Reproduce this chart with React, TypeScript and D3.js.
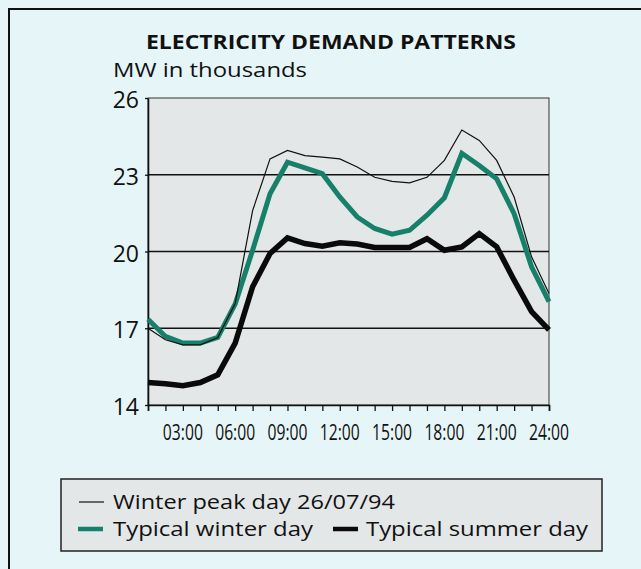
import React, { useEffect, useRef } from "react";
import * as d3 from "d3";

// hourly readings, 01:00 .. 24:00
const hours = [1, 2, 3, 4, 5, 6, 7, 8, 9, 10, 11, 12, 13, 14, 15, 16, 17, 18, 19, 20, 21, 22, 23, 24];

const winterPeak = [17.0, 16.55, 16.35, 16.35, 16.64, 17.97, 21.6, 23.62, 23.95, 23.75, 23.69, 23.62, 23.3, 22.9, 22.74, 22.68, 22.9, 23.56, 24.75, 24.34, 23.56, 22.13, 19.79, 18.36];
const typicalWinter = [17.35, 16.68, 16.42, 16.42, 16.64, 17.95, 20.05, 22.26, 23.49, 23.27, 23.04, 22.13, 21.35, 20.9, 20.68, 20.83, 21.42, 22.1, 23.84, 23.36, 22.84, 21.48, 19.4, 18.04];
const typicalSummer = [14.88, 14.83, 14.75, 14.88, 15.18, 16.42, 18.62, 19.92, 20.53, 20.31, 20.21, 20.34, 20.29, 20.16, 20.16, 20.16, 20.5, 20.05, 20.18, 20.7, 20.18, 18.88, 17.65, 16.94];

const yTicks = [14, 17, 20, 23, 26];
const gridValues = [17, 20, 23];
const xLabelHours = [3, 6, 9, 12, 15, 18, 21, 24];
const xLabels = ["03:00", "06:00", "09:00", "12:00", "15:00", "18:00", "21:00", "24:00"];

const W = 641;
const H = 569;
const FONT = "'Open Sans', 'Noto Sans', sans-serif";

const BG = "#e6f6f8";
const PLOT_FILL = "#e4e7e8";
const GREEN = "#17806a";

export default function App() {
  const svgRef = useRef<SVGSVGElement>(null);

  useEffect(() => {
    if (!svgRef.current) return;
    const svg = d3.select(svgRef.current);
    svg.selectAll("*").remove();

    const plot = { left: 148, right: 549, top: 98, bottom: 405 };
    const x = d3.scaleLinear().domain([1, 24]).range([plot.left, plot.right]);
    const y = d3.scaleLinear().domain([14, 26]).range([plot.bottom, plot.top]);

    // page background + frame
    svg.append("rect").attr("width", W).attr("height", H).attr("fill", BG);
    svg.append("line").attr("x1", 8).attr("x2", W).attr("y1", 9).attr("y2", 9)
      .attr("stroke", "#111").attr("stroke-width", 2);
    svg.append("line").attr("x1", 9).attr("x2", 9).attr("y1", 8).attr("y2", H)
      .attr("stroke", "#111").attr("stroke-width", 2);

    // titles
    svg.append("text")
      .attr("x", 331).attr("y", 49)
      .attr("text-anchor", "middle")
      .attr("font-family", FONT).attr("font-weight", 700).attr("font-size", 20)
      .attr("textLength", 370).attr("lengthAdjust", "spacingAndGlyphs")
      .attr("fill", "#111")
      .text("ELECTRICITY DEMAND PATTERNS");
    svg.append("text")
      .attr("x", 113).attr("y", 76.5)
      .attr("font-family", FONT).attr("font-size", 20)
      .attr("textLength", 194).attr("lengthAdjust", "spacingAndGlyphs")
      .attr("fill", "#111")
      .text("MW in thousands");

    // plot box
    svg.append("rect")
      .attr("x", plot.left).attr("y", plot.top)
      .attr("width", plot.right - plot.left).attr("height", plot.bottom - plot.top)
      .attr("fill", PLOT_FILL).attr("stroke", "#333").attr("stroke-width", 1);

    svg.append("g").selectAll("line").data(gridValues).join("line")
      .attr("x1", plot.left).attr("x2", plot.right)
      .attr("y1", (d) => y(d)).attr("y2", (d) => y(d))
      .attr("stroke", "#111").attr("stroke-width", 1.6);

    // axes
    const xAxis = svg.append("g").attr("transform", `translate(0,${plot.bottom})`)
      .call(d3.axisBottom(x).tickValues(hours).tickSize(6).tickFormat(() => ""));
    xAxis.select(".domain").attr("stroke", "#111").attr("stroke-width", 1.6);
    xAxis.selectAll(".tick line").attr("stroke", "#111").attr("stroke-width", 1.3);

    const yAxis = svg.append("g").attr("transform", `translate(${plot.left},0)`)
      .call(d3.axisLeft(y).tickValues(yTicks).tickSize(3).tickPadding(6).tickSizeOuter(0));
    yAxis.select(".domain").attr("stroke", "#111").attr("stroke-width", 1.6);
    yAxis.selectAll(".tick line").attr("stroke", "#111").attr("stroke-width", 1.3);
    yAxis.selectAll(".tick text")
      .attr("font-family", FONT).attr("font-size", 23).attr("dy", "0.42em").attr("fill", "#111");

    svg.append("g").selectAll("text").data(xLabelHours).join("text")
      .attr("x", (d) => x(d)).attr("y", 440)
      .attr("text-anchor", "middle")
      .attr("font-family", FONT).attr("font-size", 22)
      .attr("textLength", 40).attr("lengthAdjust", "spacingAndGlyphs")
      .attr("fill", "#111")
      .text((_, i) => xLabels[i]);

    // series
    const line = d3.line<number>().x((_, i) => x(hours[i])).y((d) => y(d));
    svg.append("path").datum(typicalSummer).attr("d", line)
      .attr("fill", "none").attr("stroke", "#0a0a0a").attr("stroke-width", 5.5);
    svg.append("path").datum(typicalWinter).attr("d", line)
      .attr("fill", "none").attr("stroke", GREEN).attr("stroke-width", 5);
    svg.append("path").datum(winterPeak).attr("d", line)
      .attr("fill", "none").attr("stroke", "#111").attr("stroke-width", 1.2);

    // legend
    const lg = svg.append("g");
    lg.append("rect").attr("x", 61).attr("y", 479).attr("width", 541).attr("height", 72)
      .attr("fill", PLOT_FILL).attr("stroke", "#222").attr("stroke-width", 1.5);
    const items = [
      { label: "Winter peak day 26/07/94", color: "#111", w: 1.2, x: 79, y: 502, tx: 113, ty: 508.5, len: 282 },
      { label: "Typical winter day", color: GREEN, w: 4.5, x: 78, y: 529, tx: 113, ty: 536, len: 200 },
      { label: "Typical summer day", color: "#0a0a0a", w: 4.5, x: 333, y: 529, tx: 366, ty: 536, len: 222 },
    ];
    items.forEach((it) => {
      lg.append("line").attr("x1", it.x).attr("x2", it.x + 25).attr("y1", it.y).attr("y2", it.y)
        .attr("stroke", it.color).attr("stroke-width", it.w);
      lg.append("text").attr("x", it.tx).attr("y", it.ty)
        .attr("font-family", FONT).attr("font-size", 20).attr("fill", "#111")
        .attr("textLength", it.len).attr("lengthAdjust", "spacingAndGlyphs")
        .text(it.label);
    });
  }, []);

  return (
    <svg ref={svgRef} width={W} height={H}
      style={{ position: "absolute", left: 0, top: 0, display: "block" }} />
  );
}
